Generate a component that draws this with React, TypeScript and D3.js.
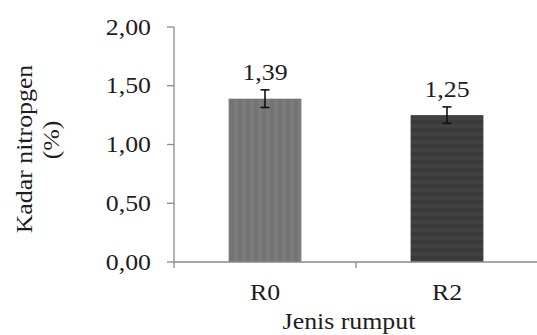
import React from "react";
import * as d3 from "d3";

const categories = ["R0", "R2"];
const values = [1.39, 1.25];
const errors = [0.075, 0.07];
const valueLabels = ["1,39", "1,25"];
const yTicks = [0, 0.5, 1, 1.5, 2];
const yTickLabels = ["0,00", "0,50", "1,00", "1,50", "2,00"];

const W = 537;
const H = 335;
const FONT = "'Liberation Serif', 'Times New Roman', serif";
const FS = 23.5;
const SX = 1.1;

export default function App() {
  const y = d3.scaleLinear().domain([0, 2]).range([262, 27]);
  const x = d3.scaleBand().domain(categories).range([174, 538]).paddingInner(0).paddingOuter(0);
  const bw = x.bandwidth() * 0.4;
  const axisColor = "#8a8a8a";
  const textColor = "#1e1e1e";

  const T = (props: { x: number; y: number; anchor?: string; rotate?: boolean; children: React.ReactNode }) => (
    <text
      transform={`translate(${props.x},${props.y})${props.rotate ? " rotate(-90)" : ""} scale(${SX},1)`}
      textAnchor={props.anchor || "middle"}
      fontFamily={FONT}
      fontSize={FS}
      fill={textColor}
    >
      {props.children}
    </text>
  );

  return (
    <svg width={W} height={H} style={{ position: "absolute", left: 0, top: 0, background: "#fff" }}>
      <defs>
        <pattern id="vstripe" width="8" height="8" patternUnits="userSpaceOnUse" x="230">
          <rect width="8" height="8" fill="#7c7c7c" />
          <rect width="4" height="8" fill="#747474" />
        </pattern>
        <pattern id="hstripe" width="8" height="8" patternUnits="userSpaceOnUse">
          <rect width="8" height="8" fill="#414141" />
          <rect width="8" height="4" fill="#3a3a3a" />
        </pattern>
      </defs>

      {/* y axis */}
      <line x1={174} x2={174} y1={y(2)} y2={y(0)} stroke={axisColor} strokeWidth={1.3} />
      {yTicks.map((t, i) => (
        <g key={t}>
          <line x1={167} x2={174} y1={y(t)} y2={y(t)} stroke={axisColor} strokeWidth={1.3} />
          <T x={151} y={y(t) + 7.5} anchor="end">{yTickLabels[i]}</T>
        </g>
      ))}

      {/* bars */}
      {categories.map((c, i) => {
        const cx = (x(c) as number) + x.bandwidth() / 2;
        const top = y(values[i]);
        const eTop = y(values[i] + errors[i]);
        const eBot = y(values[i] - errors[i]);
        return (
          <g key={c}>
            <rect x={cx - bw / 2} y={top} width={bw} height={y(0) - top} fill={i === 0 ? "url(#vstripe)" : "url(#hstripe)"} />
            <line x1={cx} x2={cx} y1={eTop} y2={eBot} stroke="#111" strokeWidth={1.6} />
            <line x1={cx - 4.5} x2={cx + 4.5} y1={eTop} y2={eTop} stroke="#111" strokeWidth={1.6} />
            <line x1={cx - 4.5} x2={cx + 4.5} y1={eBot} y2={eBot} stroke="#111" strokeWidth={1.6} />
            <T x={cx} y={eTop - 10}>{valueLabels[i]}</T>
            <T x={cx} y={300}>{c}</T>
          </g>
        );
      })}

      {/* x axis */}
      <line x1={174} x2={538} y1={y(0)} y2={y(0)} stroke={axisColor} strokeWidth={1.3} />
      {[174, 356, 538].map((tx) => (
        <line key={tx} x1={tx} x2={tx} y1={y(0)} y2={y(0) + 6} stroke={axisColor} strokeWidth={1.3} />
      ))}

      {/* axis titles */}
      <T x={349} y={329}>Jenis rumput</T>
      <T x={32} y={149} rotate>Kadar nitropgen</T>
      <T x={59} y={140} rotate>(%)</T>
    </svg>
  );
}
